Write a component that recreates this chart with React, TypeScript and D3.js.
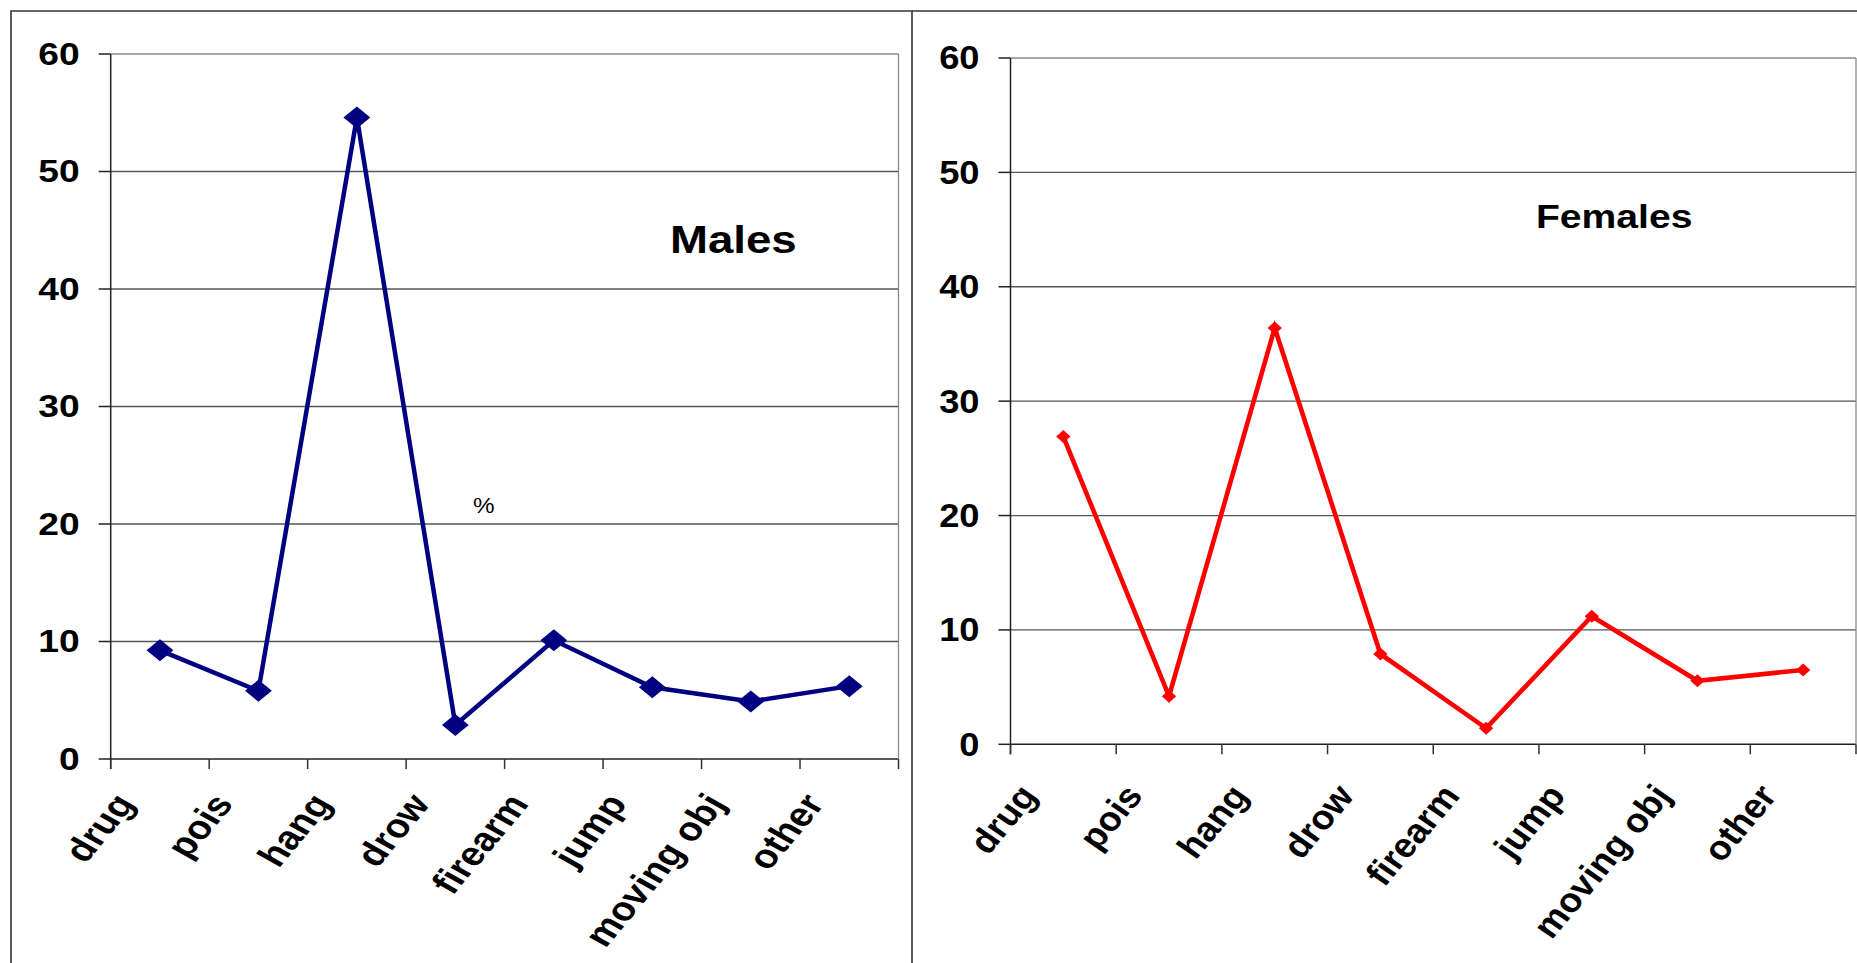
import React from "react";
import * as d3 from "d3";

const categories = ["drug", "pois", "hang", "drow", "firearm", "jump", "moving obj", "other"];
const malesValues = [9.25, 5.8, 54.6, 2.9, 10.1, 6.1, 4.9, 6.2];
const femalesValues = [26.9, 4.2, 36.4, 7.9, 1.4, 11.2, 5.55, 6.5];
const yTicks = [0, 10, 20, 30, 40, 50, 60];

const FONT = "'Liberation Sans', Arial, sans-serif";

type PanelProps = {
  values: number[];
  color: string;
  title: string;
  x0: number;
  x1: number;
  yTop: number;
  yBottom: number;
  sx: number;
  tickFont: number;
  titleFont: number;
  titleSx: number;
  titleX: number;
  titleY: number;
  marker: number;
  strokeW: number;
  labelDy: number;
  labelDx: number;
  labelFont: number;
  labelAngle: number;
  showPct?: boolean;
};

function Panel(p: PanelProps) {
  const x = d3.scaleBand<string>().domain(categories).range([p.x0, p.x1]);
  const y = d3.scaleLinear().domain([0, 60]).range([p.yBottom, p.yTop]);
  const bw = x.bandwidth();
  const cx = (c: string) => (x(c) as number) + bw / 2;
  const line = d3
    .line<number>()
    .x((_, i) => cx(categories[i]))
    .y((v) => y(v));
  const boundaries = categories.map((c) => x(c) as number).concat([p.x1]);
  const rot = (Math.atan(Math.tan((p.labelAngle * Math.PI) / 180) * p.sx) * 180) / Math.PI;
  const ms = p.marker;
  return (
    <g>
      {yTicks.map((t) => (
        <line
          key={"g" + t}
          x1={p.x0}
          x2={p.x1}
          y1={y(t)}
          y2={y(t)}
          stroke={t === 60 ? "#8a8a8a" : t === 0 ? "#222" : "#555"}
          strokeWidth={t === 0 ? 1.6 : 1.3}
        />
      ))}
      <line x1={p.x1} x2={p.x1} y1={p.yTop} y2={p.yBottom} stroke="#8a8a8a" strokeWidth={1.3} />
      <line x1={p.x0} x2={p.x0} y1={p.yTop} y2={p.yBottom + 10} stroke="#222" strokeWidth={1.5} />
      {yTicks.map((t) => (
        <line key={"t" + t} x1={p.x0 - 12} x2={p.x0} y1={y(t)} y2={y(t)} stroke="#222" strokeWidth={1.5} />
      ))}
      {boundaries.map((b, i) => (
        <line key={"b" + i} x1={b} x2={b} y1={p.yBottom} y2={p.yBottom + 10} stroke="#333" strokeWidth={1.5} />
      ))}
      {yTicks.map((t) => (
        <text
          key={"l" + t}
          transform={`translate(${p.x0 - 31},${y(t)}) scale(${p.sx},1)`}
          textAnchor="end"
          dominantBaseline="central"
          fontFamily={FONT}
          fontWeight="bold"
          fontSize={p.tickFont}
          fill="#000"
        >
          {t}
        </text>
      ))}
      {categories.map((c) => (
        <text
          key={"c" + c}
          transform={`translate(${cx(c) + p.labelDx},${p.yBottom + p.labelDy}) scale(${p.sx},1) rotate(${-rot})`}
          textAnchor="end"
          fontFamily={FONT}
          fontWeight="bold"
          fontSize={p.labelFont}
          fill="#000"
        >
          {c}
        </text>
      ))}
      <path
        d={line(p.values) || ""}
        fill="none"
        stroke={p.color}
        strokeWidth={p.strokeW}
        strokeLinejoin="miter"
      />
      {p.values.map((v, i) => (
        <path
          key={"m" + i}
          transform={`translate(${cx(categories[i])},${y(v)}) scale(${p.sx},1)`}
          d={`M0,${-ms}L${ms},0L0,${ms}L${-ms},0Z`}
          fill={p.color}
        />
      ))}
      <text
        transform={`translate(${p.titleX},${p.titleY}) scale(${p.titleSx},1)`}
        fontFamily={FONT}
        fontWeight="bold"
        fontSize={p.titleFont}
        fill="#000"
      >
        {p.title}
      </text>
      {p.showPct && (
        <text
          transform={`translate(473,513) scale(1.1,1)`}
          fontFamily={FONT}
          fontSize={22}
          fill="#000"
        >
          %
        </text>
      )}
    </g>
  );
}

export default function App() {
  return (
    <svg
      width={1857}
      height={963}
      style={{ position: "absolute", left: 0, top: 0, background: "#fff" }}
    >
      <rect x={0} y={0} width={1857} height={963} fill="#fff" />
      <path d="M11,975V11H912V975" fill="none" stroke="#333" strokeWidth={1.6} />
      <path d="M912,11H1870" fill="none" stroke="#333" strokeWidth={1.6} />
      <Panel
        values={malesValues}
        color="#000080"
        title="Males"
        x0={110.7}
        x1={898.5}
        yTop={54}
        yBottom={759}
        sx={1.22}
        tickFont={30.5}
        titleFont={38}
        titleSx={1.2}
        titleX={670}
        titleY={253}
        marker={11}
        strokeW={4.5}
        labelDx={-24}
        labelDy={45}
        labelFont={33}
        labelAngle={50}
        showPct
      />
      <Panel
        values={femalesValues}
        color="#ff0000"
        title="Females"
        x0={1010.5}
        x1={1856}
        yTop={58}
        yBottom={744.3}
        sx={1.1}
        tickFont={33}
        titleFont={34}
        titleSx={1.15}
        titleX={1536}
        titleY={228}
        marker={6.5}
        strokeW={4.6}
        labelDx={-25}
        labelDy={52}
        labelFont={34}
        labelAngle={50}
      />
    </svg>
  );
}
